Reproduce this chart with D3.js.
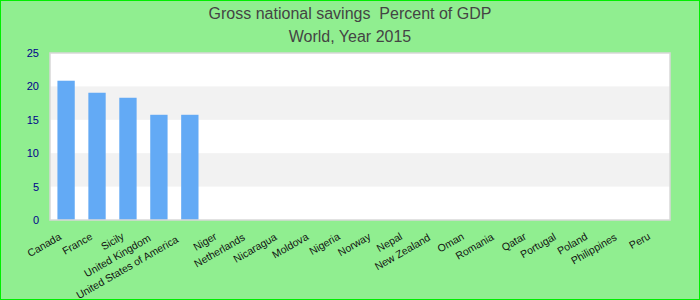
<!DOCTYPE html>
<html>
<head>
<meta charset="utf-8">
<script src="https://cdn.jsdelivr.net/npm/d3@7"></script>
<style>
  body { margin: 0; background: #fff; }
  svg { display: block; font-family: "Liberation Sans", Arial, sans-serif; }
  .title { white-space: pre; }
</style>
</head>
<body>
<div id="chart"></div>
<script>
// data
var countries = ["Canada", "France", "Sicily", "United Kingdom", "United States of America",
  "Niger", "Netherlands", "Nicaragua", "Moldova", "Nigeria", "Norway", "Nepal",
  "New Zealand", "Oman", "Romania", "Qatar", "Portugal", "Poland", "Philippines", "Peru"];
var savings = [20.85, 19.05, 18.3, 15.75, 15.75, 0, 0, 0, 0, 0, 0, 0, 0, 0, 0, 0, 0, 0, 0, 0];
var yTicks = [0, 5, 10, 15, 20, 25];
var titleLines = ["Gross national savings  Percent of GDP", "World, Year 2015"];

var width = 700, height = 300;
var margin = {top: 53, right: 30, bottom: 80, left: 50};

var svg = d3.select("#chart").append("svg")
  .attr("width", width)
  .attr("height", height);

// background + outer border
svg.append("rect")
  .attr("x", 0.5).attr("y", 0.5)
  .attr("width", width - 1).attr("height", height - 1)
  .attr("fill", "#90ee90")
  .attr("stroke", "#00ee00")
  .attr("stroke-width", 1);

// titles
svg.selectAll(".title")
  .data(titleLines)
  .enter().append("text")
  .attr("class", "title")
  .attr("x", width / 2)
  .attr("y", (d, i) => 19 + i * 23)
  .attr("text-anchor", "middle")
  .attr("font-size", "16px")
  .attr("fill", "#444")
  .text(d => d);

var x = d3.scaleBand()
  .domain(countries)
  .range([margin.left, width - margin.right])
  .paddingInner(0.44)
  .paddingOuter(0.24);

var y = d3.scaleLinear()
  .domain([0, 25])
  .range([height - margin.bottom, margin.top]);

// plot area with alternating stripes
svg.append("rect")
  .attr("x", margin.left)
  .attr("y", margin.top)
  .attr("width", width - margin.left - margin.right)
  .attr("height", y(0) - y(25))
  .attr("fill", "#fff");

svg.selectAll(".stripe")
  .data(yTicks.slice(0, -1).filter((d, i) => i % 2 == 1))
  .enter().append("rect")
  .attr("class", "stripe")
  .attr("x", margin.left)
  .attr("width", width - margin.left - margin.right)
  .attr("y", d => y(d + 5))
  .attr("height", d => y(d) - y(d + 5))
  .attr("fill", "#f2f2f2");

// bars
svg.selectAll(".bar")
  .data(savings)
  .enter().append("rect")
  .attr("class", "bar")
  .attr("x", (d, i) => x(countries[i]))
  .attr("width", x.bandwidth())
  .attr("y", d => y(d))
  .attr("height", d => y(0) - y(d))
  .attr("fill", "#63aaf5");

// plot border
svg.append("rect")
  .attr("x", margin.left)
  .attr("y", margin.top)
  .attr("width", width - margin.left - margin.right)
  .attr("height", y(0) - y(25))
  .attr("fill", "none")
  .attr("stroke", "#d8d8d8")
  .attr("stroke-width", 1.5);

// y axis labels
var yAxis = svg.append("g")
  .attr("transform", "translate(" + (margin.left - 11) + ",0)")
  .call(d3.axisLeft(y).tickValues(yTicks).tickSize(0).tickPadding(0));
yAxis.select(".domain").remove();
yAxis.selectAll("text")
  .attr("font-size", "11px")
  .attr("font-family", "Liberation Sans, Arial, sans-serif")
  .attr("fill", "#00008b");

// x axis labels, rotated; longer labels sit a bit further left/down like the original
var xAxis = svg.append("g")
  .attr("transform", "translate(0," + y(0) + ")")
  .call(d3.axisBottom(x).tickSize(0));
xAxis.select(".domain").remove();
xAxis.selectAll("text")
  .attr("font-size", "10.5px")
  .attr("font-family", "Liberation Sans, Arial, sans-serif")
  .attr("fill", "#111")
  .attr("text-anchor", "end")
  .attr("dy", 0)
  .attr("y", 0)
  .attr("transform", function() {
    var len = this.getComputedTextLength();
    return "translate(" + (-1 - 0.085 * len) + "," + (17.5 + 0.035 * len) + ") rotate(-30)";
  });
</script>
</body>
</html>
